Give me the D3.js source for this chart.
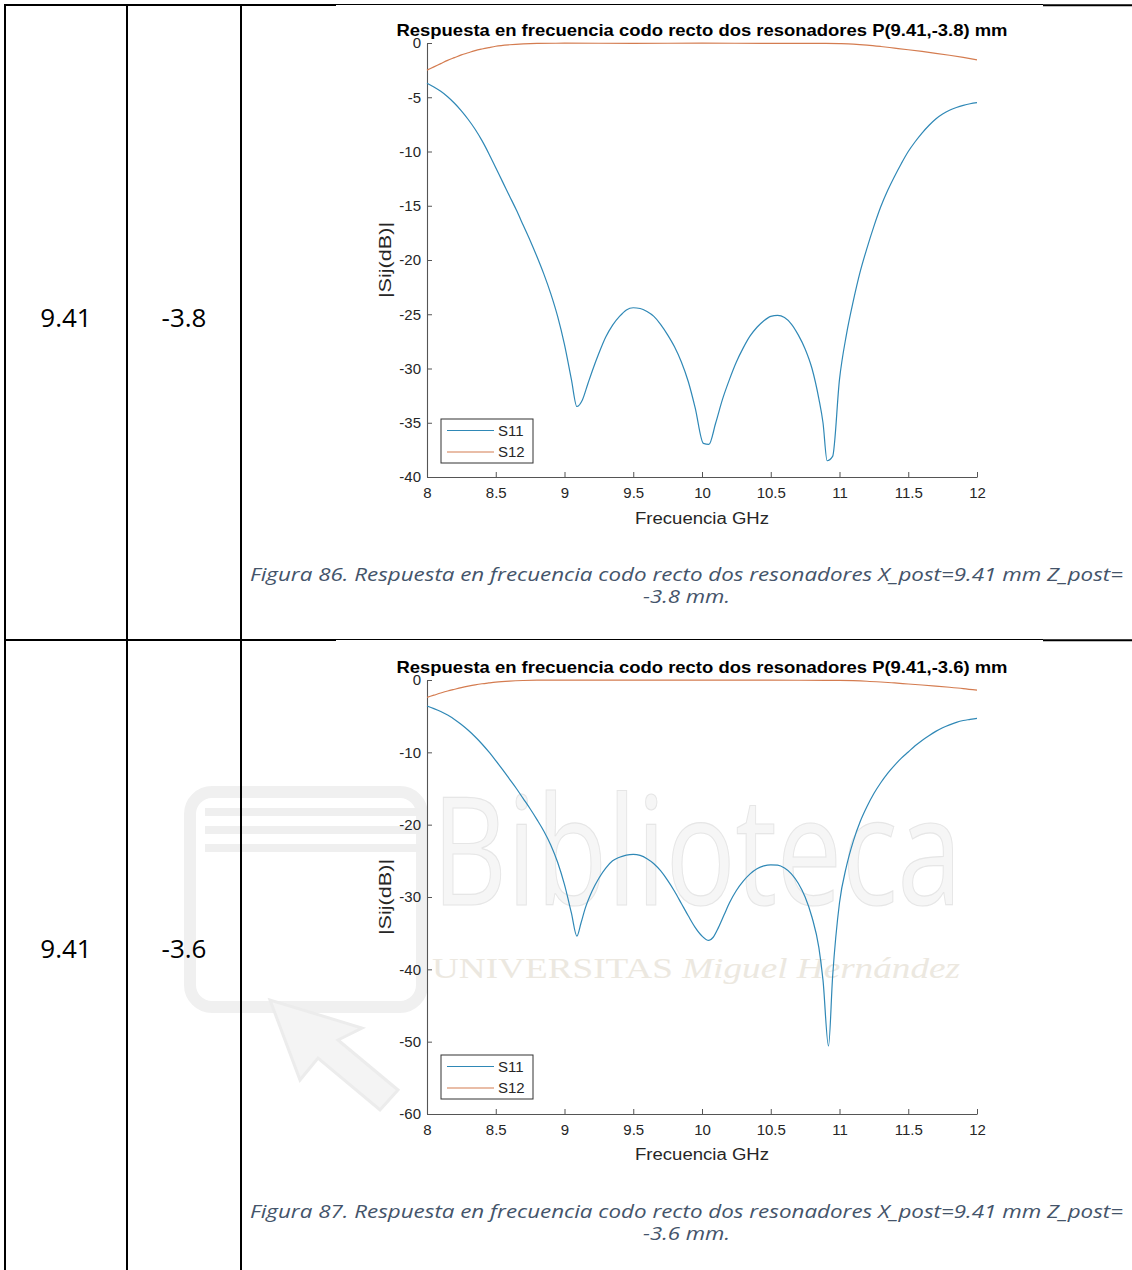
<!DOCTYPE html>
<html><head><meta charset="utf-8">
<script src="https://cdn.jsdelivr.net/npm/d3@7"></script>
<style>body{margin:0;background:#fff}svg{display:block}</style>
</head><body>
<svg id="c" width="1132" height="1270"></svg>
<script>
// ---------- data ----------
const xTicks = [8, 8.5, 9, 9.5, 10, 10.5, 11, 11.5, 12];
const yTicks86 = [0, -5, -10, -15, -20, -25, -30, -35, -40];
const yTicks87 = [0, -10, -20, -30, -40, -50, -60];
const seriesNames = ["S11", "S12"];
const tableRows = [["9.41", "-3.8"], ["9.41", "-3.6"]];
const chartTitles = [
  "Respuesta en frecuencia codo recto dos resonadores P(9.41,-3.8) mm",
  "Respuesta en frecuencia codo recto dos resonadores P(9.41,-3.6) mm"
];
const captionLines86 = ["Figura 86. Respuesta en frecuencia codo recto dos resonadores X_post=9.41 mm Z_post=", "-3.8 mm."];
const captionLines87 = ["Figura 87. Respuesta en frecuencia codo recto dos resonadores X_post=9.41 mm Z_post=", "-3.6 mm."];
const xLabel = "Frecuencia GHz";
const yLabel = "|Sij(dB)|";

const s11Fig86 = [
  [8.00,-3.7],[8.05,-4.05],[8.10,-4.45],[8.15,-4.95],[8.20,-5.55],[8.25,-6.25],[8.30,-7.05],[8.35,-7.95],
  [8.40,-9.0],[8.45,-10.2],[8.50,-11.5],[8.55,-12.8],[8.60,-14.1],[8.65,-15.4],[8.70,-16.8],[8.75,-18.2],
  [8.80,-19.7],[8.85,-21.3],[8.90,-23.1],[8.95,-25.2],[9.00,-27.8],[9.05,-31.0],[9.09,-33.5],[9.13,-32.9],
  [9.17,-31.4],[9.20,-30.3],[9.25,-28.6],[9.30,-27.1],[9.35,-26.0],[9.40,-25.2],[9.45,-24.6],[9.50,-24.4],
  [9.55,-24.47],[9.60,-24.75],[9.65,-25.2],[9.70,-25.95],[9.75,-26.9],[9.80,-28.0],[9.85,-29.4],[9.90,-31.2],
  [9.95,-33.6],[10.01,-36.9],[10.05,-37.0],[10.10,-35.0],[10.15,-32.8],[10.20,-31.0],[10.25,-29.4],[10.30,-28.1],
  [10.35,-27.0],[10.40,-26.2],[10.45,-25.6],[10.50,-25.2],[10.55,-25.1],[10.60,-25.3],[10.65,-25.9],[10.70,-26.9],
  [10.75,-28.2],[10.80,-30.0],[10.85,-32.8],[10.88,-35.0],[10.91,-38.5],[10.95,-38.1],[11.00,-31.0],[11.05,-26.9],
  [11.10,-23.8],[11.15,-21.1],[11.20,-18.9],[11.25,-16.9],[11.30,-15.1],[11.35,-13.6],[11.40,-12.3],[11.45,-11.1],
  [11.50,-10.0],[11.55,-9.1],[11.60,-8.3],[11.65,-7.6],[11.70,-7.0],[11.75,-6.55],[11.80,-6.2],[11.85,-5.95],
  [11.90,-5.75],[11.95,-5.6],[12.00,-5.5]
];
const s12Fig86 = [
  [8.00,-2.5],[8.05,-2.2],[8.10,-1.9],[8.15,-1.6],[8.20,-1.35],[8.25,-1.1],[8.30,-0.9],[8.35,-0.7],
  [8.40,-0.55],[8.45,-0.42],[8.50,-0.3],[8.60,-0.16],[8.70,-0.08],[8.80,-0.04],[9.00,-0.02],[9.50,-0.03],
  [10.00,-0.02],[10.50,-0.03],[10.90,-0.04],[11.00,-0.06],[11.10,-0.1],[11.20,-0.19],[11.30,-0.32],[11.40,-0.47],
  [11.50,-0.62],[11.60,-0.78],[11.70,-0.95],[11.80,-1.13],[11.90,-1.33],[12.00,-1.55]
];
const s11Fig87 = [
  [8.00,-3.6],[8.05,-3.95],[8.10,-4.35],[8.15,-4.85],[8.20,-5.45],[8.25,-6.15],[8.30,-6.95],[8.35,-7.85],
  [8.40,-8.85],[8.45,-9.95],[8.50,-11.15],[8.55,-12.4],[8.60,-13.7],[8.65,-15.0],[8.70,-16.4],[8.75,-17.8],
  [8.80,-19.3],[8.85,-20.9],[8.90,-22.8],[8.95,-25.2],[9.00,-28.3],[9.05,-32.2],[9.09,-35.4],[9.12,-33.6],
  [9.15,-31.6],[9.20,-29.2],[9.25,-27.4],[9.30,-26.0],[9.35,-25.0],[9.40,-24.5],[9.45,-24.2],[9.50,-24.1],
  [9.55,-24.25],[9.60,-24.7],[9.65,-25.4],[9.70,-26.4],[9.75,-27.7],[9.80,-29.2],[9.85,-30.9],[9.90,-32.6],
  [9.95,-34.2],[10.00,-35.4],[10.05,-36.0],[10.08,-35.6],[10.12,-34.2],[10.16,-32.5],[10.20,-30.8],[10.25,-29.1],
  [10.30,-27.8],[10.35,-26.8],[10.40,-26.1],[10.45,-25.7],[10.50,-25.55],[10.55,-25.6],[10.60,-26.0],[10.65,-26.8],
  [10.70,-28.1],[10.75,-30.0],[10.80,-32.8],[10.85,-37.0],[10.88,-41.5],[10.92,-50.6],[10.95,-41.0],[11.00,-30.8],
  [11.05,-25.8],[11.10,-22.3],[11.15,-19.6],[11.20,-17.5],[11.25,-15.7],[11.30,-14.2],[11.35,-12.9],[11.40,-11.8],
  [11.45,-10.8],[11.50,-9.95],[11.55,-9.1],[11.60,-8.35],[11.65,-7.7],[11.70,-7.1],[11.75,-6.6],[11.80,-6.2],
  [11.85,-5.85],[11.90,-5.6],[11.95,-5.45],[12.00,-5.3]
];
const s12Fig87 = [
  [8.00,-2.4],[8.05,-2.1],[8.10,-1.8],[8.15,-1.52],[8.20,-1.28],[8.25,-1.05],[8.30,-0.85],[8.35,-0.67],
  [8.40,-0.52],[8.45,-0.4],[8.50,-0.29],[8.60,-0.15],[8.70,-0.07],[8.80,-0.03],[9.00,-0.02],[9.50,-0.03],
  [10.00,-0.03],[10.50,-0.03],[10.90,-0.04],[11.00,-0.06],[11.10,-0.1],[11.20,-0.17],[11.30,-0.28],[11.40,-0.41],
  [11.50,-0.55],[11.60,-0.69],[11.70,-0.84],[11.80,-1.0],[11.90,-1.18],[12.00,-1.4]
];

// ---------- drawing ----------
const svg = d3.select("#c");
const FONT = "'Liberation Sans', Arial, sans-serif";
const COL_S11 = "#2f88b6", COL_S12 = "#d47c50";

// faint watermark
const wm = svg.append("g").attr("class", "watermark");
wm.append("rect").attr("x", 190).attr("y", 792).attr("width", 232).attr("height", 215).attr("rx", 22)
  .attr("fill", "none").attr("stroke", "#f0f0f0").attr("stroke-width", 12);
[812, 830, 848].forEach(yy => wm.append("line").attr("x1", 205).attr("x2", 420).attr("y1", yy).attr("y2", yy)
  .attr("stroke", "#efefef").attr("stroke-width", 8));
wm.append("path").attr("d", "M270,1000 L300,1080 L318,1058 L380,1110 L398,1090 L338,1040 L362,1028 Z")
  .attr("fill", "#f4f4f4").attr("stroke", "#ececec").attr("stroke-width", 3);
wm.append("text").attr("x", 432).attr("y", 905).attr("textLength", 530).attr("lengthAdjust", "spacingAndGlyphs")
  .attr("font-family", "'Open Sans', sans-serif").attr("font-weight", 400).attr("font-size", 150)
  .attr("fill", "#f6f6f6").attr("stroke", "#e6e6e6").attr("stroke-width", 1.2).text("Biblioteca");
const wt = wm.append("text").attr("x", 432).attr("y", 978).attr("textLength", 528).attr("lengthAdjust", "spacingAndGlyphs")
  .attr("font-family", "'Liberation Serif', serif").attr("font-size", 30).attr("fill", "#ece8e0");
wt.append("tspan").text("UNIVERSITAS ");
wt.append("tspan").attr("font-style", "italic").text("Miguel Hernández");

function drawChart(cfg) {
  const g = svg.append("g");
  const x = d3.scaleLinear().domain([8, 12]).range([427, 977]);
  const y = d3.scaleLinear().domain([0, cfg.yMin]).range([cfg.y0, cfg.y1]);

  const xa = g.append("g").attr("transform", `translate(0,${cfg.y1})`)
    .call(d3.axisBottom(x).tickValues(xTicks).tickFormat(d => String(d)).tickSizeInner(-5).tickSizeOuter(0).tickPadding(10));
  const ya = g.append("g").attr("transform", `translate(427,0)`)
    .call(d3.axisLeft(y).tickValues(cfg.yTicks).tickFormat(d => String(d)).tickSizeInner(-5).tickSizeOuter(0).tickPadding(6));
  [xa, ya].forEach(a => {
    a.select(".domain").attr("stroke", "#555").attr("stroke-width", 1.1);
    a.selectAll(".tick line").attr("stroke", "#555");
    a.selectAll(".tick text").attr("font-family", FONT).attr("font-size", 15).attr("fill", "#262626");
  });

  const line = d3.line().x(d => x(d[0])).y(d => y(d[1])).curve(d3.curveMonotoneX);
  g.append("path").datum(cfg.s11).attr("d", line).attr("fill", "none").attr("stroke", COL_S11).attr("stroke-width", 1.2);
  g.append("path").datum(cfg.s12).attr("d", line).attr("fill", "none").attr("stroke", COL_S12).attr("stroke-width", 1.2);

  g.append("text").attr("x", 702).attr("y", cfg.titleY).attr("text-anchor", "middle")
    .attr("textLength", 611).attr("lengthAdjust", "spacingAndGlyphs")
    .attr("font-family", FONT).attr("font-weight", "bold").attr("font-size", 16.5).attr("fill", "#000")
    .text(cfg.title);
  g.append("text").attr("x", 702).attr("y", cfg.xLabelY).attr("text-anchor", "middle")
    .attr("textLength", 134).attr("lengthAdjust", "spacingAndGlyphs")
    .attr("font-family", FONT).attr("font-size", 16).attr("fill", "#262626").text(xLabel);
  const yc = (cfg.y0 + cfg.y1) / 2;
  g.append("text").attr("transform", `translate(391,${yc}) rotate(-90)`).attr("text-anchor", "middle")
    .attr("textLength", 76).attr("lengthAdjust", "spacingAndGlyphs")
    .attr("font-family", FONT).attr("font-size", 17).attr("fill", "#262626").text(yLabel);

  const lg = g.append("g").attr("transform", `translate(441,${cfg.legendTop})`);
  lg.append("rect").attr("width", 92).attr("height", 44).attr("fill", "#fff").attr("stroke", "#333").attr("stroke-width", 1);
  [COL_S11, COL_S12].forEach((c, i) => {
    const yy = 11.5 + i * 21.5;
    lg.append("line").attr("x1", 6).attr("x2", 53).attr("y1", yy).attr("y2", yy).attr("stroke", c).attr("stroke-width", 1.2);
    lg.append("text").attr("x", 57).attr("y", yy).attr("dy", "0.36em").attr("font-family", FONT)
      .attr("font-size", 15).attr("fill", "#262626").text(seriesNames[i]);
  });
}

drawChart({ y0: 43, y1: 477, yMin: -40, yTicks: yTicks86, s11: s11Fig86, s12: s12Fig86,
  title: chartTitles[0], titleY: 36, xLabelY: 524, legendTop: 419 });
drawChart({ y0: 680, y1: 1114, yMin: -60, yTicks: yTicks87, s11: s11Fig87, s12: s12Fig87,
  title: chartTitles[1], titleY: 673, xLabelY: 1160, legendTop: 1055 });

// captions: one wrapped text block, two centred lines (Calibri-like widths)
const captionWidths = [873, 87];
function caption(lines, y1) {
  const tx = svg.append("text").attr("text-anchor", "middle")
    .attr("font-family", "'Open Sans', sans-serif").attr("font-style", "italic").attr("font-size", 18)
    .attr("fill", "#44546a");
  lines.forEach((t, i) => {
    tx.append("tspan").attr("x", 686.5).attr("y", y1 + i * 22)
      .attr("textLength", captionWidths[i]).attr("lengthAdjust", "spacingAndGlyphs").text(t);
  });
}
caption(captionLines86, 581);
caption(captionLines87, 1218);

// table cells
const rowCenters = [318, 949];
tableRows.forEach((r, i) => {
  [66, 184].forEach((cx, j) => {
    svg.append("text").attr("x", cx).attr("y", rowCenters[i]).attr("dy", "0.36em").attr("text-anchor", "middle")
      .attr("font-family", "'Open Sans', sans-serif").attr("font-size", 26).attr("fill", "#000").text(r[j]);
  });
});

// table grid
const grid = svg.append("g").attr("stroke", "#000");
[5, 127, 241].forEach(xx => grid.append("line").attr("x1", xx).attr("x2", xx).attr("y1", 4).attr("y2", 1270).attr("stroke-width", 2));
[5, 640].forEach(yy => {
  grid.append("line").attr("x1", 4).attr("x2", 336).attr("y1", yy).attr("y2", yy).attr("stroke-width", 2);
  grid.append("line").attr("x1", 336).attr("x2", 1043).attr("y1", yy - 0.5).attr("y2", yy - 0.5).attr("stroke-width", 1);
  grid.append("line").attr("x1", 1043).attr("x2", 1132).attr("y1", yy + 0.3).attr("y2", yy + 0.3).attr("stroke-width", 2);
});
</script>
</body></html>
